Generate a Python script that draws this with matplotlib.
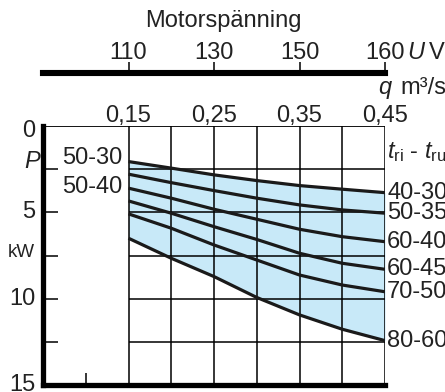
import matplotlib
matplotlib.use("Agg")
import matplotlib.pyplot as plt
import matplotlib.transforms as mtransforms

plt.rcParams['font.family'] = ['Liberation Sans', 'DejaVu Sans']
plt.rcParams['mathtext.fontset'] = 'custom'
plt.rcParams['mathtext.rm'] = 'Liberation Sans'
plt.rcParams['mathtext.it'] = 'Liberation Sans:italic'

# Flow rate q (m³/s) and heating power P (kW) for each supply/return temperature pair
q = [0.15, 0.20, 0.25, 0.30, 0.35, 0.40, 0.45]
p_40_30 = [2.06, 2.44, 2.83, 3.16, 3.45, 3.66, 3.86]
p_50_35 = [2.79, 3.28, 3.74, 4.18, 4.57, 4.86, 5.05]
p_60_40 = [3.60, 4.18, 4.82, 5.40, 5.98, 6.41, 6.70]
p_60_45 = [4.34, 5.05, 5.83, 6.57, 7.37, 7.95, 8.30]
p_70_50 = [5.09, 5.92, 6.89, 7.76, 8.63, 9.21, 9.60]
p_80_60 = [6.50, 7.66, 8.72, 9.93, 10.94, 11.77, 12.43]
curves = [p_40_30, p_50_35, p_60_40, p_60_45, p_70_50, p_80_60]
curve_labels = ["40-30", "50-35", "60-40", "60-45", "70-50", "80-60"]

# Motor voltage scale aligned with the flow axis
voltage_q = [0.15, 0.25, 0.35, 0.45]
voltage_labels = ["110", "130", "150", "160"]
q_ticks = [0.15, 0.25, 0.35, 0.45]
q_tick_labels = ["0,15", "0,25", "0,35", "0,45"]
p_grid = [2.5, 5.0, 7.5, 10.0, 12.5]
p_labels = [(0.3, "0"), (5, "5"), (10, "10"), (15, "15")]

W, H = 445, 392
fig = plt.figure(figsize=(W / 100, H / 100), dpi=100)
TXT = "#222222"
FS = 17

left, right = 43 / W, 385 / W
bottom, top = 1 - 385 / H, 1 - 126 / H
ax = fig.add_axes([left, bottom, right - left, top - bottom])
ax.set_xlim(0.05, 0.45)
ax.set_ylim(15, 0)

# Shaded operating region between the extreme curves
ax.fill_between(q, p_40_30, p_80_60, color="#c8e9f8", lw=0, zorder=1)

# Grid
ax.vlines([0.15, 0.20, 0.25, 0.30, 0.35, 0.40, 0.45], 0, 15, color="black", lw=1.1, zorder=2)
ax.hlines(p_grid, 0.15, 0.45, color="black", lw=1.1, zorder=2)
ax.hlines(0, 0.05, 0.45, color="black", lw=1.3, zorder=2)

for vals in curves:
    ax.plot(q, vals, color="#1a1a1a", lw=2.3, solid_capstyle="butt", zorder=3)

for s in ["top", "right"]:
    ax.spines[s].set_visible(False)
ax.spines["left"].set_linewidth(3.8)
ax.spines["bottom"].set_linewidth(3.8)
ax.spines["left"].set_capstyle("projecting")
ax.spines["bottom"].set_capstyle("projecting")

ax.set_yticks(p_grid)
ax.set_yticklabels([])
ax.tick_params(axis="y", direction="in", length=11, width=1.1, left=True)
ax.set_xticks([0.1])
ax.set_xticklabels([])
ax.tick_params(axis="x", direction="in", length=9, width=1.1, bottom=True)

# Flow labels along the top
ytrans = mtransforms.blended_transform_factory(ax.transData, fig.transFigure)
for xv, lab in zip(q_ticks, q_tick_labels):
    ax.text(xv, 1 - 122 / H, lab, transform=ytrans, ha="center", va="baseline",
            fontsize=FS, color=TXT, clip_on=False)

# Left power scale
ltrans = mtransforms.blended_transform_factory(ax.transAxes, ax.transData)
for yv, lab in p_labels:
    ax.text(-0.023, yv, lab, transform=ltrans, ha="right", va="center",
            fontsize=FS, color=TXT, clip_on=False)
ax.text(-0.01, 2.08, "P", transform=ltrans, ha="right", va="center",
        fontsize=FS, style="italic", color=TXT, clip_on=False)
ax.text(-0.023, 7.35, "kW", transform=ltrans, ha="right", va="center",
        fontsize=13.5, color=TXT, clip_on=False)

# Curve names
ax.text(0.1425, 1.85, "50-30", ha="right", va="center", fontsize=FS, color=TXT)
ax.text(0.1425, 3.56, "50-40", ha="right", va="center", fontsize=FS, color=TXT)
for vals, lab in zip(curves, curve_labels):
    ax.text(0.4525, vals[-1], lab, ha="left", va="center", fontsize=FS,
            color=TXT, clip_on=False)
ax.text(0.4525, 1.5, r"$t_{\mathrm{ri}}$ - $t_{\mathrm{ru}}$", ha="left", va="center",
        fontsize=FS, color=TXT, clip_on=False)
ax.text(0.4415, -2.21, "q", ha="left", va="center", fontsize=FS, style="italic",
        color=TXT, clip_on=False)
ax.text(0.4675, -2.21, "m³/s", ha="left", va="center", fontsize=FS,
        color=TXT, clip_on=False)

# Motor voltage scale
vy = 1 - 72.7 / H
vax = fig.add_axes([left, vy, right - left, 0.0001])
vax.set_xlim(0.05, 0.45)
vax.set_ylim(0, 1)
vax.patch.set_visible(False)
for s in ["left", "right", "bottom"]:
    vax.spines[s].set_visible(False)
vax.spines["top"].set_linewidth(4.4)
vax.spines["top"].set_capstyle("projecting")
vax.set_yticks([])
vax.xaxis.set_ticks_position("top")
vax.set_xticks(voltage_q)
vax.set_xticklabels([])
vax.tick_params(axis="x", direction="out", length=8, width=1.1,
                top=True, bottom=False, labeltop=False, labelbottom=False)
vtrans = mtransforms.blended_transform_factory(vax.transData, fig.transFigure)
for xv, lab in zip(voltage_q, voltage_labels):
    vax.text(xv, 1 - 59 / H, lab, transform=vtrans, ha="center", va="baseline",
             fontsize=FS, color=TXT, clip_on=False)
vax.text(0.4757, 1 - 59 / H, "U", transform=vtrans, ha="left", va="baseline",
         fontsize=FS, style="italic", color=TXT, clip_on=False)
vax.text(0.5010, 1 - 59 / H, "V", transform=vtrans, ha="left", va="baseline",
         fontsize=FS, color=TXT, clip_on=False)
fig.text(223 / W, 1 - 27 / H, "Motorspänning", ha="center", va="baseline",
         fontsize=FS, color=TXT)

fig.savefig("out.png", dpi=100)
